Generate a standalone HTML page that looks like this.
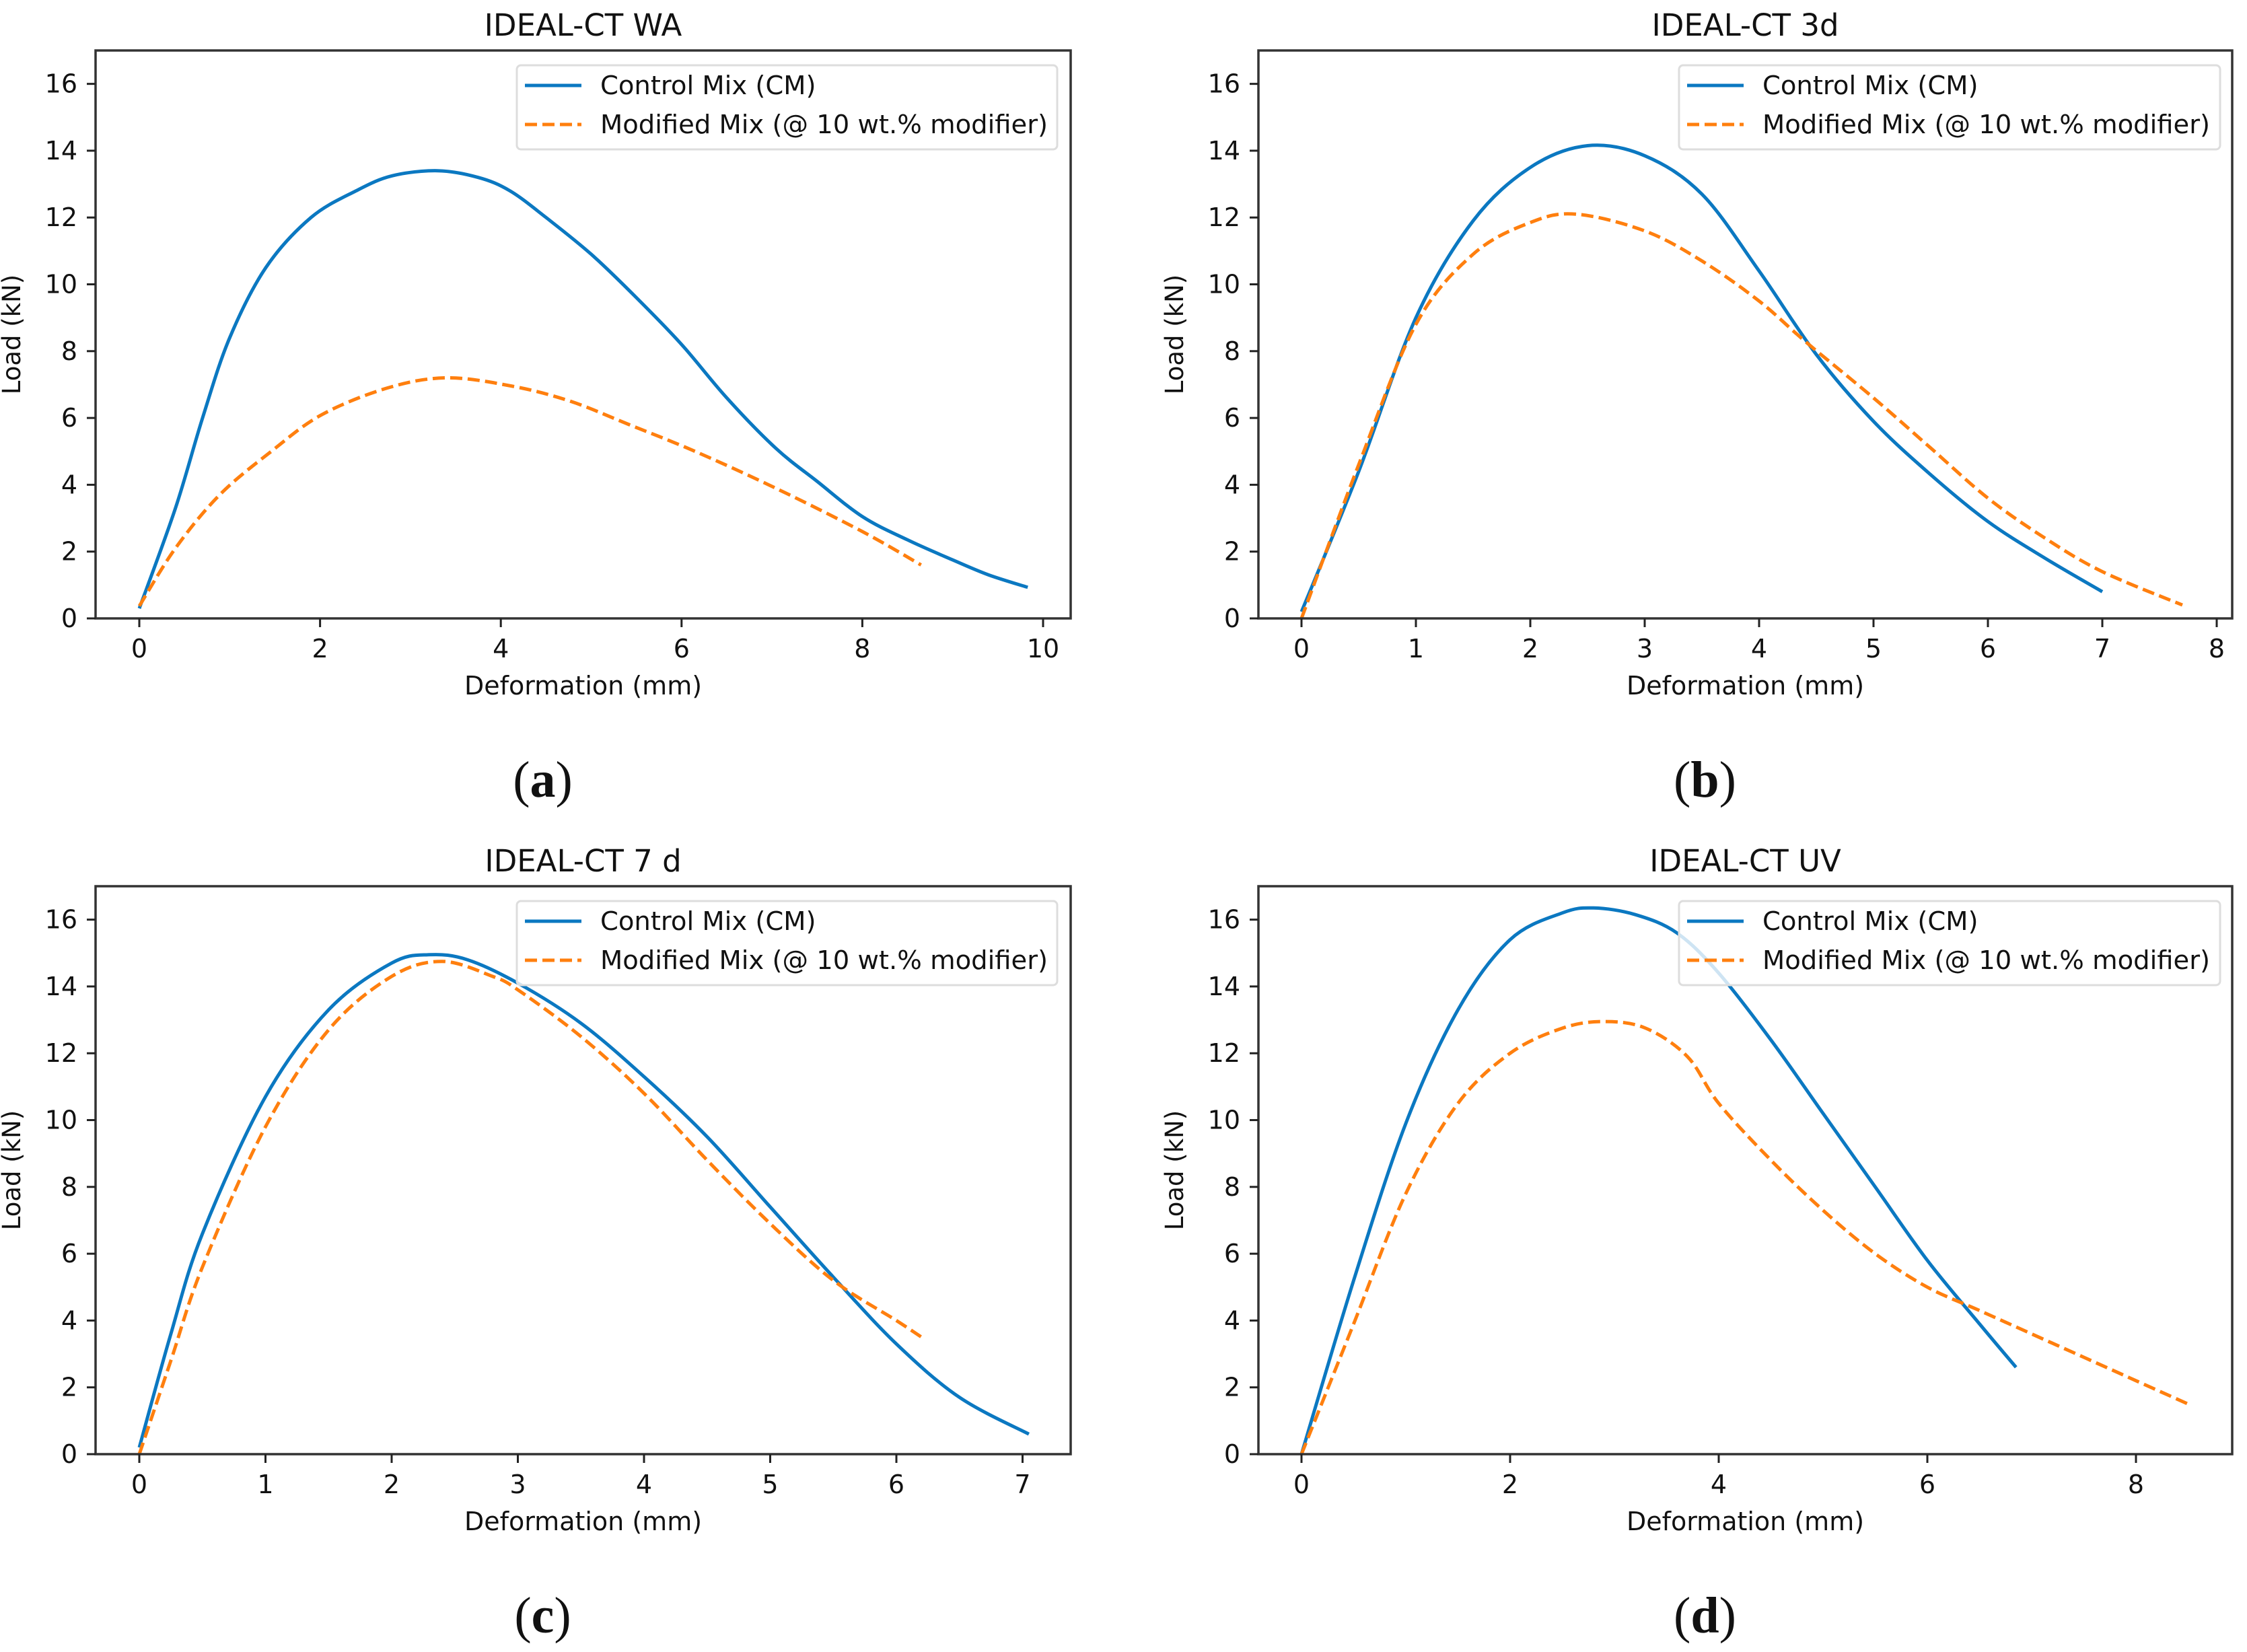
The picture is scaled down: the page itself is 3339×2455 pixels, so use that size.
<!DOCTYPE html>
<html><head><meta charset="utf-8"><style>
html,body{margin:0;padding:0;background:#fff;}
svg{display:block;}
text{font-family:"DejaVu Sans","Liberation Sans",sans-serif;fill:#111;}
</style></head><body>
<svg id="fig" xmlns="http://www.w3.org/2000/svg" width="3339" height="2455" viewBox="0 0 3339 2455"></svg>
<script>
// ---- data (deformation mm, load kN) ----
const aCmX = [0,0.4,0.7,1.0,1.4,1.9,2.4,2.8,3.3,3.75,4.1,4.5,5.0,5.5,6.0,6.5,7.04,7.5,8.0,8.5,9.0,9.4,9.83];
const aCmY = [0.3,3.3,6.0,8.4,10.5,12.0,12.8,13.25,13.4,13.2,12.8,12.0,10.9,9.6,8.2,6.6,5.1,4.1,3.05,2.35,1.75,1.3,0.93];
const aMmX = [0,0.4,0.89,1.46,2.02,2.75,3.4,4.13,4.77,5.42,6.15,7.04,8.0,8.65];
const aMmY = [0.37,2.1,3.7,5.0,6.1,6.9,7.2,6.95,6.5,5.8,5.0,3.9,2.6,1.6];

const bCmX = [0,0.5,1,1.5,2,2.5,3,3.5,4,4.5,5,5.5,6,6.5,7];
const bCmY = [0.2,4.4,9.0,11.9,13.5,14.15,13.85,12.7,10.4,7.9,5.9,4.3,2.9,1.8,0.8];
const bMmX = [0,0.5,1,1.5,2,2.4,3,3.5,4,4.4,5,5.5,6,6.5,7,7.7];
const bMmY = [0,4.6,8.8,10.9,11.85,12.1,11.6,10.7,9.5,8.3,6.6,5.1,3.6,2.4,1.4,0.4];

const cCmX = [0,0.25,0.5,1,1.5,2,2.3,2.6,3,3.5,4,4.5,5,5.5,6,6.5,7.05];
const cCmY = [0.2,3.6,6.6,10.7,13.3,14.7,14.95,14.8,14.1,12.9,11.3,9.5,7.4,5.3,3.3,1.7,0.6];
const cMmX = [0,0.25,0.5,1,1.5,2,2.4,2.8,3,3.5,4,4.5,5,5.5,6,6.2];
const cMmY = [0,2.8,5.6,9.8,12.7,14.3,14.75,14.3,13.9,12.5,10.8,8.8,6.9,5.2,4.0,3.5];

const dCmX = [0,0.5,1,1.5,2,2.5,2.8,3.2,3.6,4,4.5,5,5.5,6,6.5,6.85];
const dCmY = [0,5.2,9.9,13.3,15.4,16.2,16.35,16.15,15.6,14.4,12.4,10.2,8.0,5.8,3.9,2.6];
const dMmX = [0,0.5,1,1.5,2,2.5,2.9,3.3,3.7,4,4.5,5,5.5,6,6.5,7,7.5,8,8.5];
const dMmY = [0,3.9,7.8,10.5,12.0,12.75,12.95,12.75,11.9,10.5,8.8,7.3,6.0,5.0,4.3,3.6,2.9,2.2,1.5];

const aXTicks = [0,2,4,6,8,10];
const bXTicks = [0,1,2,3,4,5,6,7,8];
const cXTicks = [0,1,2,3,4,5,6,7];
const dXTicks = [0,2,4,6,8];
const yTicks = [0,2,4,6,8,10,12,14,16];
const titles = ["IDEAL-CT WA","IDEAL-CT 3d","IDEAL-CT 7 d","IDEAL-CT UV"];
const letters = ["a","b","c","d"];
const legendLabels = ["Control Mix (CM)","Modified Mix (@ 10 wt.% modifier)"];

const NS="http://www.w3.org/2000/svg";
const svg=document.getElementById('fig');
function mk(tag,attrs,parent){const e=document.createElementNS(NS,tag);for(const k in attrs)e.setAttribute(k,attrs[k]);(parent||svg).appendChild(e);return e;}

const panels=[
 {L:142,R:1591,T:75,B:919,x0:207,xs:134.3,ticks:aXTicks,cm:[aCmX,aCmY],mm:[aMmX,aMmY],leg:[768,1571]},
 {L:1870,R:3317,T:75,B:919,x0:1934,xs:170,ticks:bXTicks,cm:[bCmX,bCmY],mm:[bMmX,bMmY],leg:[2495,3299]},
 {L:142,R:1591,T:1317,B:2161,x0:207,xs:187.5,ticks:cXTicks,cm:[cCmX,cCmY],mm:[cMmX,cMmY],leg:[768,1571]},
 {L:1870,R:3317,T:1317,B:2161,x0:1934,xs:155,ticks:dXTicks,cm:[dCmX,dCmY],mm:[dMmX,dMmY],leg:[2495,3299]}
];
const yMax=17;

function smoothPath(pts){
  let d=`M${pts[0][0].toFixed(1)},${pts[0][1].toFixed(1)}`;
  for(let i=0;i<pts.length-1;i++){
    const p0=pts[i-1]||pts[i],p1=pts[i],p2=pts[i+1],p3=pts[i+2]||p2;
    const c1=[p1[0]+(p2[0]-p0[0])/6,p1[1]+(p2[1]-p0[1])/6];
    const c2=[p2[0]-(p3[0]-p1[0])/6,p2[1]-(p3[1]-p1[1])/6];
    d+=` C${c1[0].toFixed(1)},${c1[1].toFixed(1)} ${c2[0].toFixed(1)},${c2[1].toFixed(1)} ${p2[0].toFixed(1)},${p2[1].toFixed(1)}`;
  }
  return d;
}

panels.forEach((p,i)=>{
  const g=mk('g',{});
  
  
  const xS=v=>p.x0+v*p.xs;
  const yS=v=>p.B-(v/yMax)*(p.B-p.T);
  const cx=(p.L+p.R)/2;
  const title=mk('text',{x:cx,y:p.T-22,'text-anchor':'middle','font-size':45},g);
  title.textContent=titles[i];
  
  
  const cmPts=p.cm[0].map((x,k)=>[xS(x),yS(p.cm[1][k])]);
  const mmPts=p.mm[0].map((x,k)=>[xS(x),yS(p.mm[1][k])]);
  const l1=mk('path',{d:smoothPath(cmPts),fill:'none',stroke:'#0b78c1','stroke-width':5,'stroke-linejoin':'round'},g);
  
  
  const l2=mk('path',{d:smoothPath(mmPts),fill:'none',stroke:'#ff7f0e','stroke-width':5,'stroke-dasharray':'18 8'},g);
  
  
  const fr=mk('rect',{x:p.L,y:p.T,width:p.R-p.L,height:p.B-p.T,fill:'none',stroke:'#333','stroke-width':3.5},g);
  
  
  p.ticks.forEach(t=>{
    const x=xS(t);
    mk('line',{x1:x,x2:x,y1:p.B,y2:p.B+13,stroke:'#222','stroke-width':3},g);
    const tl=mk('text',{x:x,y:p.B+58,'text-anchor':'middle','font-size':38},g);
    tl.textContent=t;
    
    
  });
  yTicks.forEach(t=>{
    const y=yS(t);
    mk('line',{x1:p.L-13,x2:p.L,y1:y,y2:y,stroke:'#222','stroke-width':3},g);
    const tl=mk('text',{x:p.L-27,y:y+13,'text-anchor':'end','font-size':38},g);
    tl.textContent=t;
    
    
  });
  const xl=mk('text',{x:cx,y:p.B+113,'text-anchor':'middle','font-size':38},g);
  xl.textContent='Deformation (mm)';
  
  
  const ym=(p.T+p.B)/2;
  const yl=mk('text',{x:p.L-112,y:ym,'text-anchor':'middle','font-size':37,transform:`rotate(-90 ${p.L-112} ${ym})`},g);
  yl.textContent='Load (kN)';
  
  
  const lg=mk('g',{},g);
  
  
  const lx=p.leg[0],rx=p.leg[1],ty=p.T+22;
  mk('rect',{x:lx,y:ty,width:rx-lx,height:125,rx:6,fill:'#fff','fill-opacity':0.8,stroke:'#ddd','stroke-width':3},lg);
  mk('line',{x1:lx+12,x2:lx+96,y1:ty+30,y2:ty+30,stroke:'#0b78c1','stroke-width':5},lg);
  mk('line',{x1:lx+12,x2:lx+96,y1:ty+88,y2:ty+88,stroke:'#ff7f0e','stroke-width':5,'stroke-dasharray':'18 8'},lg);
  const e1=mk('text',{x:lx+124,y:ty+43,'font-size':38.5},lg);
  e1.textContent=legendLabels[0];
  
  
  const e2=mk('text',{x:lx+124,y:ty+101,'font-size':38.5},lg);
  e2.textContent=legendLabels[1];
  
  
  const sl=mk('text',{x:cx-60,y:p.B+265,'text-anchor':'middle','font-size':76,style:'font-family:"Liberation Serif",serif'},g);
  sl.innerHTML='(<tspan font-weight="bold">'+letters[i]+'</tspan>)';
  
  
});
</script>
</body></html>
